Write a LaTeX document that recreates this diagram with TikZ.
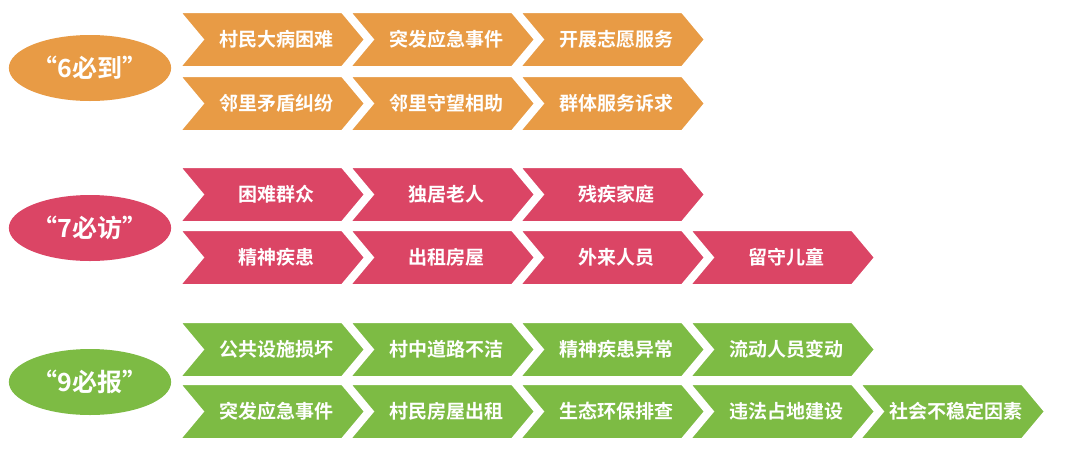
\documentclass[tikz,border=0pt]{standalone}
\usepackage{fontspec}
\newfontfamily\cjk{Noto Sans CJK SC}[BoldFont={* Bold}]
\definecolor{cor}{HTML}{E89B45}
\definecolor{cre}{HTML}{DB4565}
\definecolor{cgr}{HTML}{7DBB44}
\tikzset{
  chevtext/.style={text=white,font=\cjk\bfseries\fontsize{19}{20}\selectfont,inner sep=0pt},
  oval/.style={ellipse,minimum width=140pt,minimum height=66pt,inner sep=0pt,text=white,font=\cjk\bfseries\fontsize{25}{26}\selectfont}
}
\usetikzlibrary{shapes.geometric}
% #1 x0, #2 y top, #3 color, #4 text, #5 name
\newcommand\mychev[5]{%
  \fill[#3,draw=white,line width=2pt] (#1,#2) -- ++(162,0) -- ++(23,27.5) -- ++(-23,27.5) -- ++(-162,0) -- ++(23,-27.5) -- cycle;
  \node[chevtext] (#5) at (#1+96,#2+27.5) {#4};}
\begin{document}
\begin{tikzpicture}[x=1pt,y=-1pt]
\useasboundingbox (0,0) rectangle (1080,456);
\fill[white] (0,0) rectangle (1080,456);
\node[oval,fill=cor] (o1) at (90,68) {“6必到”};
\node[oval,fill=cre] (o2) at (90,228) {“7必访”};
\node[oval,fill=cgr] (o3) at (90,382) {“9必报”};
\mychev{180}{12}{cor}{村民大病困难}{a1}
\mychev{350}{12}{cor}{突发应急事件}{a2}
\mychev{520}{12}{cor}{开展志愿服务}{a3}
\mychev{180}{76}{cor}{邻里矛盾纠纷}{a4}
\mychev{350}{76}{cor}{邻里守望相助}{a5}
\mychev{520}{76}{cor}{群体服务诉求}{a6}
\mychev{180}{167}{cre}{困难群众}{b1}
\mychev{350}{167}{cre}{独居老人}{b2}
\mychev{520}{167}{cre}{残疾家庭}{b3}
\mychev{180}{230}{cre}{精神疾患}{b4}
\mychev{350}{230}{cre}{出租房屋}{b5}
\mychev{520}{230}{cre}{外来人员}{b6}
\mychev{690}{230}{cre}{留守儿童}{b7}
\mychev{180}{322}{cgr}{公共设施损坏}{c1}
\mychev{350}{322}{cgr}{村中道路不洁}{c2}
\mychev{520}{322}{cgr}{精神疾患异常}{c3}
\mychev{690}{322}{cgr}{流动人员变动}{c4}
\mychev{180}{384}{cgr}{突发应急事件}{c5}
\mychev{350}{384}{cgr}{村民房屋出租}{c6}
\mychev{520}{384}{cgr}{生态环保排查}{c7}
\mychev{690}{384}{cgr}{违法占地建设}{c8}
\mychev{860}{384}{cgr}{社会不稳定因素}{c9}
\end{tikzpicture}
\end{document}
